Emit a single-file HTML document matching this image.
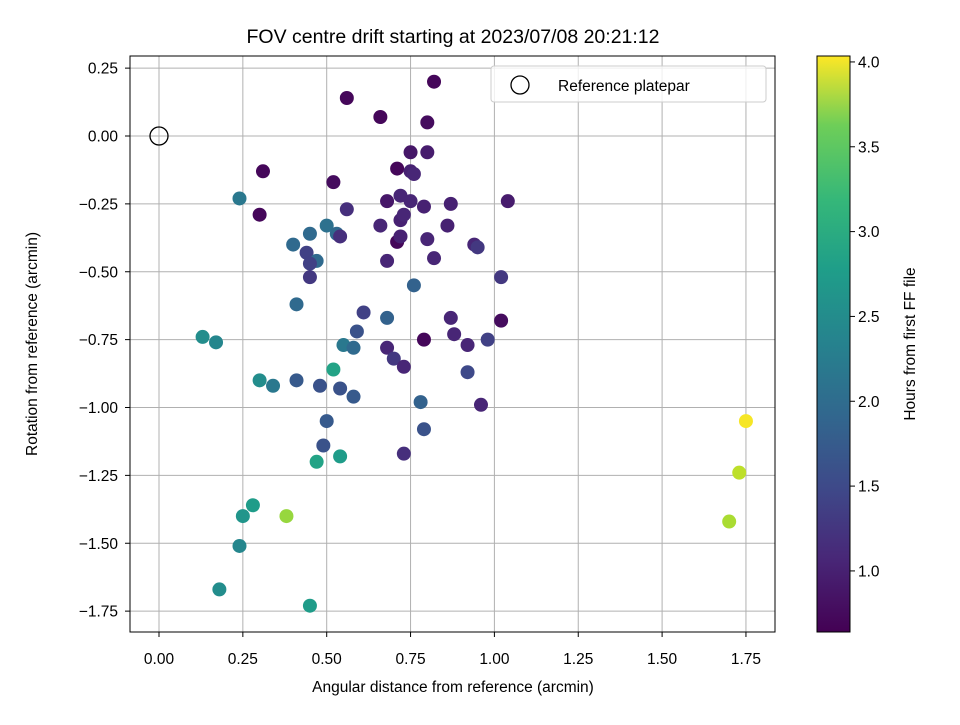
<!DOCTYPE html>
<html><head><meta charset="utf-8"><style>
body{margin:0;background:#fff}
svg text{font-family:"Liberation Sans","DejaVu Sans",sans-serif;fill:#000}
</style></head><body>
<svg id="chart" width="960" height="720" xmlns="http://www.w3.org/2000/svg">
<defs><linearGradient id="vir" x1="0" y1="1" x2="0" y2="0">
<stop offset="0" stop-color="#440154"/><stop offset="0.13" stop-color="#482878"/><stop offset="0.25" stop-color="#3e4989"/><stop offset="0.38" stop-color="#31688e"/><stop offset="0.5" stop-color="#26828e"/><stop offset="0.63" stop-color="#1f9e89"/><stop offset="0.75" stop-color="#35b779"/><stop offset="0.88" stop-color="#6ece58"/><stop offset="1" stop-color="#fde725"/></linearGradient></defs>
<rect width="960" height="720" fill="#fff"/>
<text x="453" y="43" font-size="19.5" text-anchor="middle">FOV centre drift starting at 2023/07/08 20:21:12</text>
<g id="grid"></g><g id="pts"></g>
<rect x="130" y="56" width="645" height="576" fill="none" stroke="#000" stroke-width="1"/>
<g id="ticks"></g>
<text x="453" y="692" font-size="15.5" text-anchor="middle">Angular distance from reference (arcmin)</text>
<text transform="translate(37,344) rotate(-90)" font-size="15.5" text-anchor="middle">Rotation from reference (arcmin)</text>
<g>
<rect x="491" y="66" width="275" height="36" rx="3" fill="#fff" fill-opacity="0.8" stroke="#ccc"/>
<circle cx="520" cy="85" r="9" fill="none" stroke="#000" stroke-width="1.3"/>
<text x="558" y="91" font-size="15.5">Reference platepar</text></g>
<rect x="817" y="56" width="33" height="576" fill="url(#vir)" stroke="#000"/>
<g id="cticks"></g>
<text transform="translate(915,344) rotate(-90)" font-size="15.5" text-anchor="middle">Hours from first FF file</text>
</svg>
<script>
const xs=[0.82,0.56,0.66,0.80,0.31,0.30,0.24,0.52,0.75,0.80,0.71,0.75,0.76,0.68,0.72,0.75,0.79,0.87,1.04,0.56,0.66,0.72,0.73,0.86,0.71,0.72,0.80,0.94,0.95,0.50,0.45,0.53,0.54,0.40,0.44,0.47,0.45,0.68,0.82,0.45,1.02,0.76,0.41,0.61,0.68,0.87,1.02,0.59,0.13,0.17,0.55,0.58,0.79,0.88,0.92,0.98,0.68,0.70,0.73,0.92,0.52,0.30,0.34,0.41,0.48,0.54,0.58,0.78,0.96,0.50,0.79,0.49,0.73,0.47,0.54,0.25,0.28,0.38,0.24,0.18,0.45,1.75,1.73,1.70];
const ys=[0.20,0.14,0.07,0.05,-0.13,-0.29,-0.23,-0.17,-0.06,-0.06,-0.12,-0.13,-0.14,-0.24,-0.22,-0.24,-0.26,-0.25,-0.24,-0.27,-0.33,-0.31,-0.29,-0.33,-0.39,-0.37,-0.38,-0.40,-0.41,-0.33,-0.36,-0.36,-0.37,-0.40,-0.43,-0.46,-0.47,-0.46,-0.45,-0.52,-0.52,-0.55,-0.62,-0.65,-0.67,-0.67,-0.68,-0.72,-0.74,-0.76,-0.77,-0.78,-0.75,-0.73,-0.77,-0.75,-0.78,-0.82,-0.85,-0.87,-0.86,-0.90,-0.92,-0.90,-0.92,-0.93,-0.96,-0.98,-0.99,-1.05,-1.08,-1.14,-1.17,-1.20,-1.18,-1.40,-1.36,-1.40,-1.51,-1.67,-1.73,-1.05,-1.24,-1.42];
const hours=[0.7,0.7,0.7,0.75,0.7,0.7,2.0,0.75,0.85,0.9,0.7,0.95,1.0,0.85,1.0,1.0,0.95,0.95,0.9,1.1,1.0,0.95,1.0,0.95,0.7,0.95,1.0,1.0,1.2,1.9,1.8,1.8,1.1,1.8,1.3,1.8,1.3,1.0,1.0,1.2,1.2,1.7,1.8,1.3,1.7,1.0,0.75,1.5,2.3,2.2,2.0,1.8,0.7,1.0,1.0,1.3,1.0,1.2,1.0,1.4,2.6,2.3,2.0,1.6,1.5,1.5,1.6,1.7,1.0,1.6,1.5,1.5,1.1,2.6,2.5,2.4,2.5,3.5,2.2,2.3,2.5,4.0,3.7,3.6];
const xTicks=[0,0.25,0.5,0.75,1,1.25,1.5,1.75];
const yTicks=[0.25,0,-0.25,-0.5,-0.75,-1,-1.25,-1.5,-1.75];
const cTicks=[1.0,1.5,2.0,2.5,3.0,3.5,4.0];
const X=v=>159+v*335.4, Y=v=>136-v*271.5;
const cMin=0.64,cMax=4.035, CY=v=>632-(v-cMin)/(cMax-cMin)*576;
const stops=[[68,1,84],[72,40,120],[62,73,137],[49,104,142],[38,130,142],[31,158,137],[53,183,121],[110,206,88],[181,222,43],[253,231,37]];
function vir(h){let t=Math.max(0,Math.min(1,(h-cMin)/(cMax-cMin)))*(stops.length-1);let i=Math.min(Math.floor(t),stops.length-2),f=t-i;const c=stops[i].map((a,k)=>Math.round(a+(stops[i+1][k]-a)*f));return `rgb(${c})`;}
const NS="http://www.w3.org/2000/svg";
const fmt=(v,d)=>(v<0?'\u2212':'')+Math.abs(v).toFixed(d);
function mk(tag,attrs,parent){const e=document.createElementNS(NS,tag);for(const k in attrs)e.setAttribute(k,attrs[k]);document.getElementById(parent).appendChild(e);return e;}
xTicks.forEach(v=>{const l=mk('line',{x1:X(v),x2:X(v),y1:56,y2:632,stroke:'#b0b0b0','stroke-width':1},'grid');


mk('line',{x1:X(v),x2:X(v),y1:632,y2:637,stroke:'#000'},'ticks');
const t=mk('text',{x:X(v),y:664,'font-size':15.5,'text-anchor':'middle'},'ticks');t.textContent=fmt(v,2);

});
yTicks.forEach(v=>{const l=mk('line',{x1:130,x2:775,y1:Y(v),y2:Y(v),stroke:'#b0b0b0','stroke-width':1},'grid');


mk('line',{x1:125,x2:130,y1:Y(v),y2:Y(v),stroke:'#000'},'ticks');
const t=mk('text',{x:118,y:Y(v)+5.5,'font-size':15.5,'text-anchor':'end'},'ticks');t.textContent=fmt(v,2);

});
cTicks.forEach(v=>{mk('line',{x1:850,x2:855,y1:CY(v),y2:CY(v),stroke:'#000'},'cticks');
const t=mk('text',{x:858,y:CY(v)+5.5,'font-size':15.5},'cticks');t.textContent=v.toFixed(1);

});
xs.forEach((x,i)=>{const c=mk('circle',{cx:X(x),cy:Y(ys[i]),r:7,fill:vir(hours[i])},'pts');

});
const r=mk('circle',{cx:X(0),cy:Y(0),r:9,fill:'none',stroke:'#000','stroke-width':1.3},'pts');


</script>
</body></html>
